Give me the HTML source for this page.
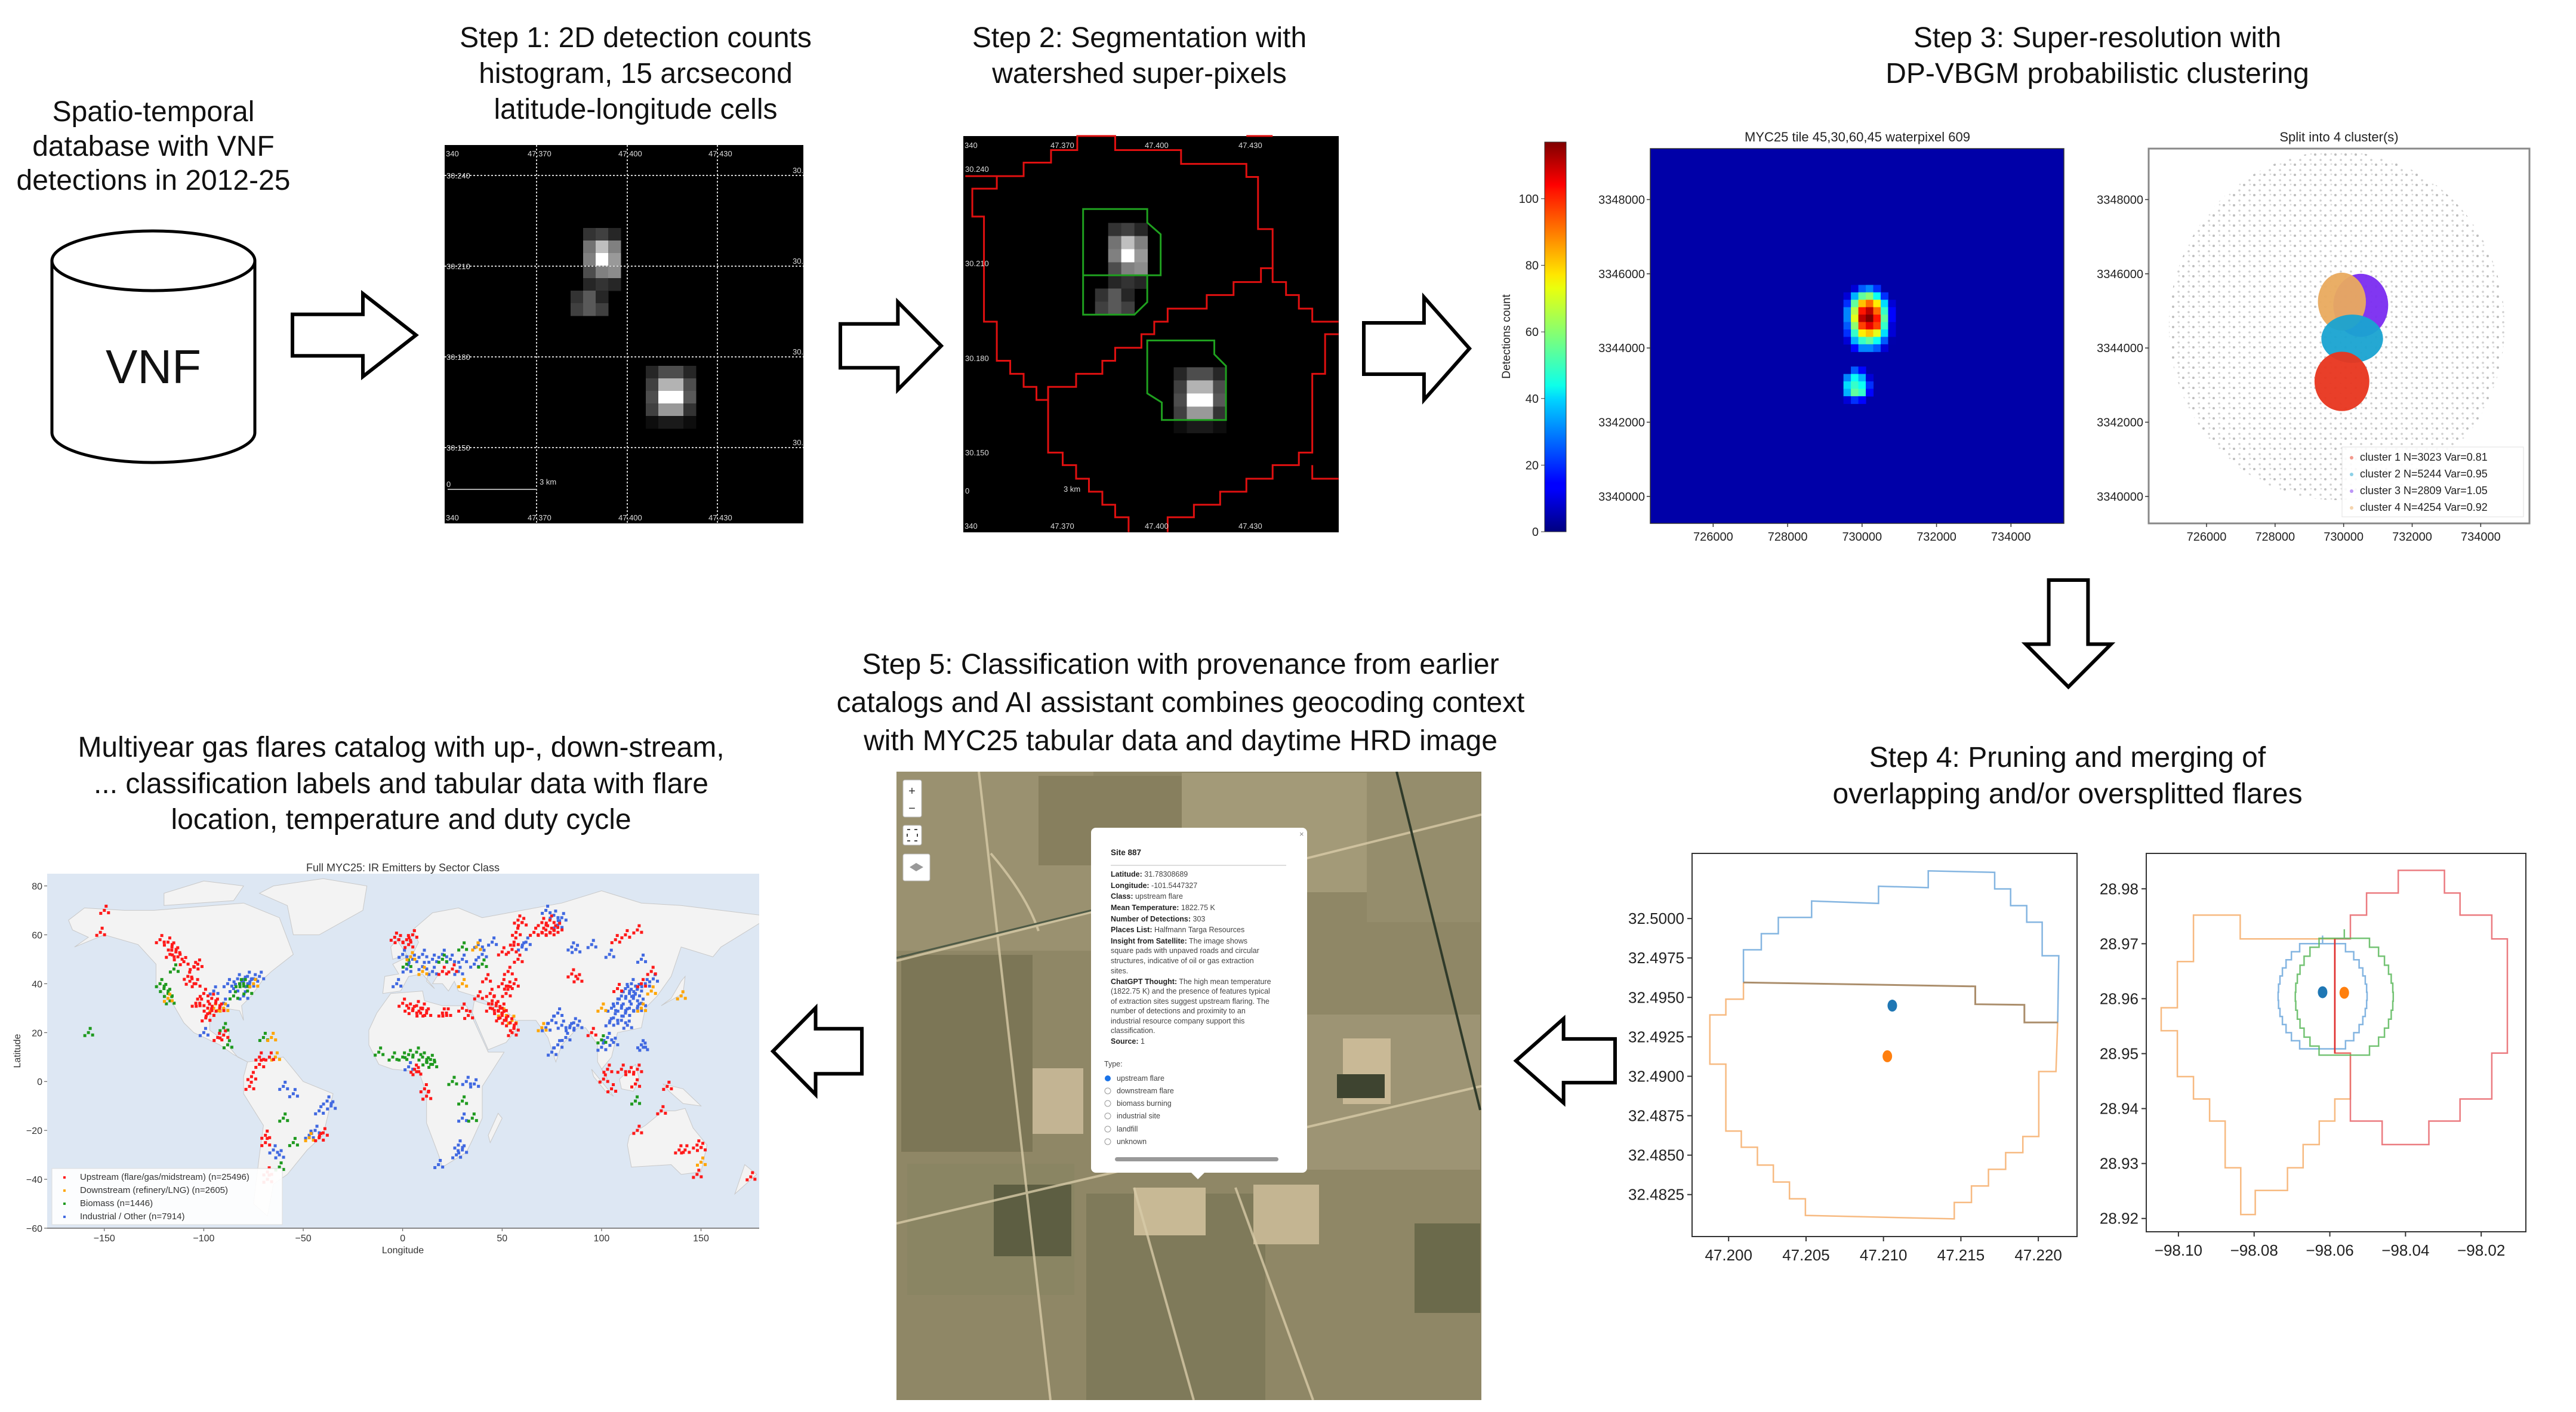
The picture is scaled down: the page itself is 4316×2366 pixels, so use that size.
<!DOCTYPE html>
<html><head><meta charset="utf-8"><style>
html,body{margin:0;padding:0;background:#fff;}
svg{display:block;font-family:"Liberation Sans",sans-serif;}
.title{font-size:48px;fill:#111;text-anchor:middle;}
.tick{font-size:20px;fill:#222;}
.pop{font-size:12.5px;fill:#444;}
.pop b, .popb{font-weight:bold;fill:#222;}
</style></head><body>
<svg id="fig" width="4316" height="2366" viewBox="0 0 4316 2366" xmlns="http://www.w3.org/2000/svg">
<defs>
<linearGradient id="jetgrad" x1="0" y1="1" x2="0" y2="0">
<stop offset="0" stop-color="#00007f"/><stop offset="0.11" stop-color="#0000ff"/><stop offset="0.125" stop-color="#0000ff"/><stop offset="0.34" stop-color="#00d4ff"/><stop offset="0.375" stop-color="#0dffea"/><stop offset="0.5" stop-color="#7dff7a"/><stop offset="0.625" stop-color="#eaff0d"/><stop offset="0.66" stop-color="#ffe600"/><stop offset="0.875" stop-color="#ff1300"/><stop offset="0.89" stop-color="#ff0000"/><stop offset="1" stop-color="#7f0000"/>
</linearGradient>
<pattern id="dots" width="17" height="17" patternUnits="userSpaceOnUse">
<rect width="17" height="17" fill="#fff"/><circle cx="3" cy="4" r="2" fill="#a8a8a8"/><circle cx="12" cy="13" r="1.8" fill="#bdbdbd"/><circle cx="13" cy="3" r="1.4" fill="#d0d0d0"/>
</pattern>
<clipPath id="mapclip"><rect x="79" y="1464" width="1193" height="594"/></clipPath>
<clipPath id="satclip"><rect x="1502" y="1293" width="980" height="1053"/></clipPath>
</defs>

<g>
<text class="title" x="257" y="203">Spatio-temporal</text>
<text class="title" x="257" y="261">database with VNF</text>
<text class="title" x="257" y="318">detections in 2012-25</text>
<text class="title" x="1065" y="79">Step 1: 2D detection counts</text>
<text class="title" x="1065" y="139">histogram, 15 arcsecond</text>
<text class="title" x="1065" y="199">latitude-longitude cells</text>
<text class="title" x="1909" y="79">Step 2: Segmentation with</text>
<text class="title" x="1909" y="139">watershed super-pixels</text>
<text class="title" x="3514" y="79">Step 3: Super-resolution with</text>
<text class="title" x="3514" y="139">DP-VBGM probabilistic clustering</text>
<text class="title" x="3464" y="1285">Step 4: Pruning and merging of</text>
<text class="title" x="3464" y="1346">overlapping and/or oversplitted flares</text>
<text class="title" x="1978" y="1129">Step 5: Classification with provenance from earlier</text>
<text class="title" x="1978" y="1193">catalogs and AI assistant combines geocoding context</text>
<text class="title" x="1978" y="1257">with MYC25 tabular data and daytime HRD image</text>
<text class="title" x="672" y="1268">Multiyear gas flares catalog with up-, down-stream,</text>
<text class="title" x="672" y="1329">... classification labels and tabular data with flare</text>
<text class="title" x="672" y="1389">location, temperature and duty cycle</text>
</g>

<g>
<path d="M87,437 V725 A170,50 0 0 0 427,725 V437" fill="#fff" stroke="#000" stroke-width="5"/>
<ellipse cx="257" cy="437" rx="170" ry="50" fill="#fff" stroke="#000" stroke-width="5"/>
<text x="257" y="642" font-size="80" text-anchor="middle" fill="#111">VNF</text>
</g>

<g id="arrows" fill="#fff" stroke="#000" stroke-width="6" stroke-linejoin="miter"></g>

<g id="step1">
<rect x="745" y="243" width="601" height="634" fill="#000"/>
<g id="s1cells"></g>
<g stroke="#cfcfcf" stroke-width="2" stroke-dasharray="3,3" fill="none">
<line x1="899" y1="243" x2="899" y2="877"/><line x1="1051" y1="243" x2="1051" y2="877"/><line x1="1202" y1="243" x2="1202" y2="877"/>
<line x1="745" y1="294" x2="1346" y2="294"/><line x1="745" y1="446" x2="1346" y2="446"/><line x1="745" y1="598" x2="1346" y2="598"/><line x1="745" y1="750" x2="1346" y2="750"/>
</g>
<g font-size="13" fill="#ddd">
<text x="747" y="262">340</text><text x="884" y="262">47.370</text><text x="1036" y="262">47.400</text><text x="1187" y="262">47.430</text>
<text x="747" y="872">340</text><text x="884" y="872">47.370</text><text x="1036" y="872">47.400</text><text x="1187" y="872">47.430</text>
<text x="748" y="299">30.240</text><text x="748" y="451">30.210</text><text x="748" y="603">30.180</text><text x="748" y="755">30.150</text>
<text x="1328" y="290">30.</text><text x="1328" y="442">30.</text><text x="1328" y="594">30.</text><text x="1328" y="746">30.</text>
<text x="748" y="816">0</text><text x="904" y="812">3 km</text>
</g>
<line x1="750" y1="820" x2="900" y2="820" stroke="#aaa" stroke-width="2"/>
</g>

<g id="step2">
<rect x="1614" y="228" width="629" height="664" fill="#000"/>
<g id="s2content" transform="translate(1614,228) scale(1.046,1.047) translate(-745,-243)"></g>
<g transform="translate(740,220) scale(0.977,0.437)" fill="none" stroke-width="3">
<path vector-effect="non-scaling-stroke" stroke="#e01010" d="M898,172 H998 V120 H1045 V72 H1090 V18 H1155 V72 H1268 V125 H1380 V175 H1400 V375 H1425 V525 H1405 V578 H1358 V628 H1312 V680 H1245 V730 H1222 V778 H1200 V830 H1155 V880 H1133 V930 H1088 V980 H1040 V1030 H1020 V980 H998 V930 H975 V880 H952 V730 H930 V327 H910 V220 H952 V172"/>
<path vector-effect="non-scaling-stroke" stroke="#e01010" d="M1040,980 V1232 H1065 V1280 H1088 V1332 H1110 V1382 H1133 V1432 H1155 V1480 H1178 V1537 M1245,1537 V1480 H1290 V1432 H1335 V1382 H1380 V1332 H1425 V1280 H1470 V1232 H1493 V930 H1515 V778 H1538"/>
<path vector-effect="non-scaling-stroke" stroke="#e01010" d="M1425,525 V578 H1448 V628 H1470 V680 H1493 V730 H1538 M1493,1280 V1332 H1538 M1380,18 H1425"/>
<path vector-effect="non-scaling-stroke" stroke="#1fa01f" d="M1100,298 H1210 V350 L1233,395 V552 H1100 Z M1100,552 H1210 V655 L1188,703 H1100 Z"/>
<path vector-effect="non-scaling-stroke" stroke="#1fa01f" d="M1210,802 H1325 V855 L1345,900 V1107 H1235 V1040 L1210,1005 Z"/>
</g>
<g font-size="13" fill="#ddd">
<text x="1616" y="248">340</text><text x="1760" y="248">47.370</text><text x="1918" y="248">47.400</text><text x="2075" y="248">47.430</text>
<text x="1616" y="886">340</text><text x="1760" y="886">47.370</text><text x="1918" y="886">47.400</text><text x="2075" y="886">47.430</text>
<text x="1617" y="288">30.240</text><text x="1617" y="446">30.210</text><text x="1617" y="605">30.180</text><text x="1617" y="763">30.150</text>
<text x="1617" y="827">0</text><text x="1782" y="824">3 km</text>
</g>
</g>

<g id="step3">
<rect x="2588" y="238" width="36" height="653" fill="url(#jetgrad)" stroke="#333" stroke-width="1"/>
<text transform="translate(2530,564) rotate(-90)" font-size="19" text-anchor="middle" fill="#222">Detections count</text>
<g id="cbticks"></g>
<text x="3112" y="237" font-size="22" text-anchor="middle" fill="#222">MYC25 tile 45,30,60,45 waterpixel 609</text>
<text x="3919" y="237" font-size="22" text-anchor="middle" fill="#222">Split into 4 cluster(s)</text>
<g id="heat"></g>
<g id="clus"></g>
</g>

<g id="step4"></g>

<g id="step5">
<g clip-path="url(#satclip)">
<rect x="1502" y="1293" width="980" height="1053" fill="#8f8766"/>
<rect x="1502" y="1293" width="330" height="300" fill="#9a9170"/>
<rect x="1740" y="1300" width="240" height="150" fill="#877f5e"/>
<rect x="1980" y="1295" width="320" height="200" fill="#a39a78"/>
<rect x="1510" y="1600" width="220" height="330" fill="#7c7656"/>
<rect x="1520" y="1950" width="280" height="220" fill="#8a8563"/>
<rect x="1820" y="2000" width="300" height="346" fill="#7f7a5a"/>
<rect x="2150" y="1700" width="330" height="260" fill="#9d9474"/>
<rect x="2250" y="1740" width="80" height="110" fill="#c9b996"/>
<rect x="1730" y="1790" width="85" height="110" fill="#c3b493"/>
<rect x="1900" y="1990" width="120" height="80" fill="#c8b995"/>
<rect x="2100" y="1985" width="110" height="100" fill="#c4b592"/>
<rect x="1665" y="1985" width="130" height="120" fill="#5d5e42"/>
<rect x="2240" y="1800" width="80" height="40" fill="#3e4430"/>
<rect x="2370" y="2050" width="110" height="150" fill="#6b6a4b"/>
<rect x="2290" y="1295" width="190" height="250" fill="#958d6c"/>
<g stroke="#d8cba8" stroke-width="4" fill="none" opacity="0.8">
<path d="M1502,1610 L2482,1365"/><path d="M1502,2050 L2482,1820"/><path d="M1640,1293 L1760,2346"/><path d="M1900,1990 L2000,2346"/><path d="M2070,1990 L2200,2346"/><path d="M1660,1430 Q1720,1500 1740,1560"/>
</g>
<path d="M2340,1293 L2480,1860" stroke="#2f3a2a" stroke-width="4"/>
<path d="M1502,1605 L1830,1525" stroke="#4e5a46" stroke-width="3"/>
</g>
<g>
<rect x="1513" y="1307" width="31" height="62" fill="#fff" stroke="#bbb" rx="3"/>
<text x="1528" y="1332" font-size="20" text-anchor="middle" fill="#333">+</text>
<text x="1528" y="1361" font-size="20" text-anchor="middle" fill="#333">−</text>
<rect x="1513" y="1383" width="31" height="33" fill="#fff" stroke="#bbb" rx="3"/>
<rect x="1520" y="1390" width="17" height="19" fill="none" stroke="#444" stroke-width="2" stroke-dasharray="5,7"/>
<rect x="1513" y="1431" width="45" height="45" fill="#fff" stroke="#bbb" rx="3"/>
<path d="M1524,1453 L1535,1446 L1547,1453 L1535,1460 Z" fill="#999"/>
</g>
<g>
<rect x="1828" y="1387" width="362" height="578" rx="8" fill="#fff"/>
<path d="M1995,1964 L2007,1976 L2019,1964 Z" fill="#fff"/>
<text x="2177" y="1402" font-size="13" fill="#888">×</text>
<text x="1861" y="1433" font-size="13.5" class="popb">Site 887</text>
<line x1="1861" y1="1450" x2="2155" y2="1450" stroke="#ddd" stroke-width="2"/>
<g class="pop">
<text x="1861" y="1469"><tspan class="popb">Latitude:</tspan> 31.78308689</text>
<text x="1861" y="1488"><tspan class="popb">Longitude:</tspan> -101.5447327</text>
<text x="1861" y="1506"><tspan class="popb">Class:</tspan> upstream flare</text>
<text x="1861" y="1525"><tspan class="popb">Mean Temperature:</tspan> 1822.75 K</text>
<text x="1861" y="1544"><tspan class="popb">Number of Detections:</tspan> 303</text>
<text x="1861" y="1562"><tspan class="popb">Places List:</tspan> Halfmann Targa Resources</text>
<text x="1861" y="1581"><tspan class="popb">Insight from Satellite:</tspan> The image shows</text>
<text x="1861" y="1597">square pads with unpaved roads and circular</text>
<text x="1861" y="1614">structures, indicative of oil or gas extraction</text>
<text x="1861" y="1631">sites.</text>
<text x="1861" y="1649"><tspan class="popb">ChatGPT Thought:</tspan> The high mean temperature</text>
<text x="1861" y="1665">(1822.75 K) and the presence of features typical</text>
<text x="1861" y="1682">of extraction sites suggest upstream flaring. The</text>
<text x="1861" y="1698">number of detections and proximity to an</text>
<text x="1861" y="1715">industrial resource company support this</text>
<text x="1861" y="1731">classification.</text>
<text x="1861" y="1749"><tspan class="popb">Source:</tspan> 1</text>
<text x="1850" y="1787">Type:</text>
</g>
<g class="pop">
<circle cx="1856" cy="1807" r="5" fill="#1a73e8"/><text x="1871" y="1811">upstream flare</text>
<circle cx="1856" cy="1828" r="5" fill="none" stroke="#999"/><text x="1871" y="1832">downstream flare</text>
<circle cx="1856" cy="1849" r="5" fill="none" stroke="#999"/><text x="1871" y="1853">biomass burning</text>
<circle cx="1856" cy="1870" r="5" fill="none" stroke="#999"/><text x="1871" y="1874">industrial site</text>
<circle cx="1856" cy="1892" r="5" fill="none" stroke="#999"/><text x="1871" y="1896">landfill</text>
<circle cx="1856" cy="1913" r="5" fill="none" stroke="#999"/><text x="1871" y="1917">unknown</text>
</g>
<rect x="1868" y="1939" width="274" height="7" rx="3.5" fill="#999"/>
</g>
</g>

<g id="map">
<text x="675" y="1460" font-size="18" text-anchor="middle" fill="#333">Full MYC25: IR Emitters by Sector Class</text>
<rect x="79" y="1464" width="1193" height="594" fill="#dde7f3"/>
<g id="land" clip-path="url(#mapclip)"></g>
<g id="pts" clip-path="url(#mapclip)"></g>
<g id="mapaxes"></g>
<text x="675" y="2100" font-size="16" text-anchor="middle" fill="#333">Longitude</text>
<text transform="translate(34,1761) rotate(-90)" font-size="16" text-anchor="middle" fill="#333">Latitude</text>
<g id="maplegend"></g>
</g>
</svg>
<script>
const NS="http://www.w3.org/2000/svg";
function mk(tag,attrs,parent){const e=document.createElementNS(NS,tag);for(const k in attrs)e.setAttribute(k,attrs[k]);parent.appendChild(e);return e;}
const $=id=>document.getElementById(id);

const s1UpperCounts=[[0,.2,.25,.15],[0,.45,.75,.5],[0,.5,1,.6],[0,.3,.5,.55],[0,.15,.2,.15],[.2,.35,.15,0],[.25,.35,.25,0]];
const s1LowerCounts=[[.15,.3,.3,.15],[.25,.7,.7,.3],[.3,1,1,.35],[.25,.6,.6,.2],[.05,.1,.1,.05]];
const s1Origins=[[956,382],[1082,613]];
const CELL=21;
function drawCells(parent,grid,o){grid.forEach((row,r)=>row.forEach((v,c)=>{if(v<=0)return;const g=Math.round(v*255);
 const rc=mk('rect',{x:o[0]+c*CELL,y:o[1]+r*CELL,width:CELL+0.5,height:CELL+0.5,fill:`rgb(${g},${g},${g})`},parent);
 
 }));}
[$('s1cells'),$('s2content')].forEach(p=>{drawCells(p,s1UpperCounts,s1Origins[0]);drawCells(p,s1LowerCounts,s1Origins[1]);});

const arrowsG=$('arrows');
function arrowPts(x,y,w,h,dir){
 if(dir==='r'){const a=.25,b=.75,hx=x+w*.57;return [[x,y+h*a],[hx,y+h*a],[hx,y],[x+w,y+h/2],[hx,y+h],[hx,y+h*b],[x,y+h*b]];}
 if(dir==='l'){const a=.24,b=.76,hx=x+w*.48;return [[x+w,y+h*a],[hx,y+h*a],[hx,y],[x,y+h/2],[hx,y+h],[hx,y+h*b],[x+w,y+h*b]];}
 const a=.27,b=.73,hy=y+h*.6;return [[x+w*a,y],[x+w*b,y],[x+w*b,hy],[x+w,hy],[x+w/2,y+h],[x,hy],[x+w*a,hy]];}
[[490,492,207,139,'r'],[1408,506,169,147,'r'],[2285,498,177,172,'r'],[3394,972,143,179,'d'],[2540,1707,166,141,'l'],[1295,1689,149,145,'l']].forEach(a=>{
 const p=mk('polygon',{points:arrowPts(...a).map(q=>q.join(',')).join(' ')},arrowsG);
 
 });

const axisXTicks=[726000,728000,730000,732000,734000];
const axisYTicks=[3348000,3346000,3344000,3342000,3340000];
const cbTicks=[0,20,40,60,80,100];
const CB_MAX=117;
const upperBlobOrigin=[729500,3345700];
const upperBlobCounts=[[0,10,25,30,20,0,0],[10,35,55,60,45,20,0],[20,55,80,90,75,40,10],[30,65,100,110,90,50,15],[30,70,110,117,100,55,15],[25,60,95,105,95,50,10],[20,50,75,80,70,40,10],[10,35,50,55,45,25,5],[0,15,30,30,25,10,0]];
const lowerBlobOrigin=[729500,3343500];
const lowerBlobCounts=[[0,25,15,0],[30,45,35,10],[40,50,45,20],[35,55,50,15],[10,20,15,0]];
const BIN=200;
const XMIN=724311,XMAX=735422,YMIN=3339273,YMAX=3349374;
function mkAxis(x0,y0,w,h){return {x:v=>x0+(v-XMIN)/(XMAX-XMIN)*w,y:v=>y0+(YMAX-v)/(YMAX-YMIN)*h,x0,y0,w,h};}
const HM=mkAxis(2765,249,693,628), SC=mkAxis(3600,249,638,628);
function jet(t){t=Math.max(0,Math.min(1,t));const c=v=>Math.round(255*Math.max(0,Math.min(1,v)));
 return `rgb(${c(1.5-Math.abs(4*t-3))},${c(1.5-Math.abs(4*t-2))},${c(1.5-Math.abs(4*t-1))})`;}
const heat=$('heat');
const hbg=mk('rect',{x:HM.x0,y:HM.y0,width:HM.w,height:HM.h,fill:jet(0.04)},heat);


function drawBlob(origin,grid){grid.forEach((row,r)=>row.forEach((v,c)=>{if(v<=0)return;
 const x1=HM.x(origin[0]+c*BIN),x2=HM.x(origin[0]+(c+1)*BIN),y1=HM.y(origin[1]-r*BIN),y2=HM.y(origin[1]-(r+1)*BIN);
 const rc=mk('rect',{x:x1,y:y1,width:x2-x1+0.5,height:y2-y1+0.5,fill:jet(v/CB_MAX)},heat);
 
 }));}
drawBlob(upperBlobOrigin,upperBlobCounts);drawBlob(lowerBlobOrigin,lowerBlobCounts);
function frame(A,g,thick){const f=mk('rect',{x:A.x0,y:A.y0,width:A.w,height:A.h,fill:'none',stroke:thick?'#888':'#333','stroke-width':thick?3:1.5},g);
 axisXTicks.forEach(v=>{mk('line',{x1:A.x(v),x2:A.x(v),y1:A.y0+A.h,y2:A.y0+A.h+6,stroke:'#333','stroke-width':1.5},g);
  const t=mk('text',{x:A.x(v),y:A.y0+A.h+29,'text-anchor':'middle',class:'tick'},g);t.textContent=v;});
 axisYTicks.forEach(v=>{mk('line',{x1:A.x0-6,x2:A.x0,y1:A.y(v),y2:A.y(v),stroke:'#333','stroke-width':1.5},g);
  const t=mk('text',{x:A.x0-9,y:A.y(v)+7,'text-anchor':'end',class:'tick'},g);t.textContent=v;});return f;}
const hf=frame(HM,heat,false);


const cbg=$('cbticks');
cbTicks.forEach(v=>{const y=891-v/CB_MAX*653;mk('line',{x1:2582,x2:2588,y1:y,y2:y,stroke:'#333'},cbg);
 const t=mk('text',{x:2578,y:y+7,'text-anchor':'end',class:'tick'},cbg);t.textContent=v;
 
 });

const clusterNames=['cluster 1 N=3023 Var=0.81','cluster 2 N=5244 Var=0.95','cluster 3 N=2809 Var=1.05','cluster 4 N=4254 Var=0.92'];
const clusterCx=[729950,730250,730500,729950];
const clusterCy=[3343100,3344250,3345150,3345250];
const clusterRx=[800,900,800,700];
const clusterRy=[800,650,850,780];
const clusterColors=['#e8351e','#19a3d1','#7a2cf0','#e9aa5e'];
const cloudCenter=[729800,3344600], cloudRadius=[4900,4700];
const clus=$('clus');
const cbgR=mk('rect',{x:SC.x0,y:SC.y0,width:SC.w,height:SC.h,fill:'#fff'},clus);


const cloud=mk('ellipse',{cx:SC.x(cloudCenter[0]),cy:SC.y(cloudCenter[1]),rx:SC.x(cloudCenter[0]+cloudRadius[0])-SC.x(cloudCenter[0]),ry:SC.y(cloudCenter[1]-cloudRadius[1])-SC.y(cloudCenter[1]),fill:'url(#dots)',opacity:0.75},clus);


[2,3,1,0].forEach(i=>{const e=mk('ellipse',{cx:SC.x(clusterCx[i]),cy:SC.y(clusterCy[i]),rx:SC.x(clusterCx[i]+clusterRx[i])-SC.x(clusterCx[i]),ry:SC.y(clusterCy[i]-clusterRy[i])-SC.y(clusterCy[i]),fill:clusterColors[i],opacity:0.95},clus);
 
 });
const sf=frame(SC,clus,true);


const lg=mk('rect',{x:3924,y:749,width:304,height:117,fill:'#fff',stroke:'#ddd',opacity:0.9},clus);


clusterNames.forEach((n,i)=>{const y=772+i*28;mk('circle',{cx:3940,cy:y-5,r:3,fill:clusterColors[i],opacity:.5},clus);
 const t=mk('text',{x:3954,y:y,'font-size':18,fill:'#222'},clus);t.textContent=n;
 
 });

const p1XTicks=[47.200,47.205,47.210,47.215,47.220];
const p1YTicks=[32.4825,32.4850,32.4875,32.4900,32.4925,32.4950,32.4975,32.5000];
const p1BluePoly=[[47.20096,32.49595],[47.20096,32.49802],[47.20211,32.49802],[47.20211,32.49904],[47.20321,32.49904],[47.20321,32.50007],[47.20536,32.50007],[47.20536,32.50111],[47.20968,32.50096],[47.20968,32.50205],[47.21289,32.50196],[47.21289,32.50302],[47.21718,32.50293],[47.21718,32.50188],[47.21821,32.50188],[47.21821,32.50082],[47.21925,32.50082],[47.21925,32.49977],[47.22025,32.49977],[47.22025,32.49764],[47.22132,32.49764],[47.22125,32.49341]];
const p1MergeLine=[[47.20096,32.49595],[47.21593,32.49570],[47.21593,32.49457],[47.21910,32.49453],[47.21910,32.49341],[47.22125,32.49341]];
const p1OrangePoly=[[47.20096,32.49595],[47.20096,32.49489],[47.19982,32.49489],[47.19982,32.49389],[47.19879,32.49389],[47.19879,32.49077],[47.19982,32.49077],[47.19982,32.48653],[47.20082,32.48653],[47.20082,32.48550],[47.20186,32.48550],[47.20186,32.48437],[47.20289,32.48437],[47.20289,32.48330],[47.20393,32.48330],[47.20393,32.48223],[47.20496,32.48223],[47.20496,32.48118],[47.21457,32.48096],[47.21457,32.48200],[47.21568,32.48200],[47.21568,32.48305],[47.21678,32.48305],[47.21678,32.48410],[47.21789,32.48410],[47.21789,32.48516],[47.21900,32.48516],[47.21900,32.48618],[47.22003,32.48618],[47.22003,32.49030],[47.22114,32.49030],[47.22125,32.49341]];
const p1Centroids=[[47.21057,32.49448],[47.21025,32.49127]];
const p2XTicks=[-98.10,-98.08,-98.06,-98.04,-98.02];
const p2YTicks=[28.92,28.93,28.94,28.95,28.96,28.97,28.98];
const p2OrangePoly=[[-98.09603,28.97521],[-98.08368,28.97521],[-98.08368,28.97088],[-98.05868,28.97088],[-98.05868,28.95010],[-98.05456,28.95010],[-98.05456,28.94175],[-98.05868,28.94175],[-98.05868,28.93773],[-98.06279,28.93773],[-98.06279,28.93345],[-98.06706,28.93345],[-98.06706,28.92922],[-98.07118,28.92922],[-98.07118,28.92510],[-98.07971,28.92510],[-98.07971,28.92072],[-98.08353,28.92072],[-98.08353,28.92922],[-98.08765,28.92922],[-98.08765,28.93773],[-98.09176,28.93773],[-98.09176,28.94175],[-98.09603,28.94175],[-98.09603,28.94582],[-98.10029,28.94582],[-98.10029,28.95417],[-98.10456,28.95417],[-98.10456,28.95835],[-98.10029,28.95835],[-98.10029,28.96675],[-98.09603,28.96675]];
const p2RedPoly=[[-98.05456,28.97088],[-98.05456,28.97521],[-98.05029,28.97521],[-98.05029,28.97923],[-98.04191,28.97923],[-98.04191,28.98335],[-98.02971,28.98335],[-98.02971,28.97923],[-98.02559,28.97923],[-98.02559,28.97521],[-98.01721,28.97521],[-98.01721,28.97088],[-98.01309,28.97088],[-98.01309,28.95010],[-98.01721,28.95010],[-98.01721,28.94175],[-98.02559,28.94175],[-98.02559,28.93773],[-98.03382,28.93773],[-98.03382,28.93345],[-98.04618,28.93345],[-98.04618,28.93773],[-98.05456,28.93773],[-98.05456,28.95010],[-98.05868,28.95010],[-98.05868,28.97088]];
const p2RingCx=[-98.06191,-98.05618];
const p2RingCy=[28.96118,28.96118];
const p2RingRx=[0.01176,0.01294];
const p2RingRy=[0.01031,0.01145];
const p2Centroids=[[-98.06191,28.96118],[-98.05618,28.96108]];
const s4=$('step4');
function plotAxes(x0,y0,w,h,xr,yr){return {x:v=>x0+(v-xr[0])/(xr[1]-xr[0])*w,y:v=>y0+(yr[1]-v)/(yr[1]-yr[0])*h,x0,y0,w,h};}
const P1=plotAxes(2835,1430,645,642,[47.19764,47.22250],[32.47984,32.50413]);
const P2=plotAxes(3596,1430,636,634,[-98.1085,-98.0082],[28.91758,28.98644]);
function pathOf(A,pts,close){return pts.map((p,i)=>(i?'L':'M')+A.x(p[0]).toFixed(1)+','+A.y(p[1]).toFixed(1)).join(' ')+(close?' Z':'');}
function plotFrame(A,xt,yt,fx,fy,name){const g=mk('g',{},s4);
 
 
 mk('rect',{x:A.x0,y:A.y0,width:A.w,height:A.h,fill:'#fff',stroke:'#333','stroke-width':2},g);
 xt.forEach(v=>{mk('line',{x1:A.x(v),x2:A.x(v),y1:A.y0+A.h,y2:A.y0+A.h+8,stroke:'#333','stroke-width':2},g);
  const t=mk('text',{x:A.x(v),y:A.y0+A.h+40,'text-anchor':'middle','font-size':26,fill:'#222'},g);t.textContent=fx(v);});
 yt.forEach(v=>{mk('line',{x1:A.x0-8,x2:A.x0,y1:A.y(v),y2:A.y(v),stroke:'#333','stroke-width':2},g);
  const t=mk('text',{x:A.x0-13,y:A.y(v)+9,'text-anchor':'end','font-size':26,fill:'#222'},g);t.textContent=fy(v);});return g;}
const g1=plotFrame(P1,p1XTicks,p1YTicks,v=>v.toFixed(3),v=>v.toFixed(4),'step4-plot-merge');
const g2=plotFrame(P2,p2XTicks,p2YTicks,v=>v.toFixed(2).replace('-','−'),v=>v.toFixed(2),'step4-plot-split');
function poly(g,A,pts,color,close,name,w){const p=mk('path',{d:pathOf(A,pts,close),fill:'none',stroke:color,'stroke-width':w||2.5,opacity:0.85},g);
 
 }
poly(g1,P1,p1BluePoly,'#6fa8dc',false,'flare-a-boundary');
poly(g1,P1,p1OrangePoly,'#f6ae6b',false,'flare-b-boundary');
poly(g1,P1,p1MergeLine,'#9c7a52',false,'shared-boundary',3);
p1Centroids.forEach((c,i)=>{const e=mk('ellipse',{cx:P1.x(c[0]),cy:P1.y(c[1]),rx:8,ry:10,fill:i?'#ff7f0e':'#1f77b4'},g1);
 
 });
poly(g2,P2,p2OrangePoly,'#f6ae6b',true,'flare-orange-boundary');
poly(g2,P2,p2RedPoly,'#e8646a',true,'flare-red-boundary');
function steppedRing(cx,cy,rx,ry){const pts=[];const N=14;for(let k=0;k<=N;k++){const y=cy+ry*(1-2*k/N);const dx=rx*Math.sqrt(Math.max(0,1-Math.pow((y-cy)/ry,2)));pts.push([cx+dx,y]);if(k<N){const y2=cy+ry*(1-2*(k+1)/N);pts.push([cx+dx,y2]);}}
 const left=pts.map(p=>[2*cx-p[0],p[1]]).reverse();return pts.concat(left);}
p2RingCx.forEach((cx,i)=>poly(g2,P2,steppedRing(cx,p2RingCy[i],p2RingRx[i],p2RingRy[i]),i?'#5cb85c':'#6fa8dc',true,'small-flare-boundary'));
mk('line',{x1:P2.x(-98.05868),x2:P2.x(-98.05868),y1:P2.y(28.97088),y2:P2.y(28.95010),stroke:'#e03030','stroke-width':2.5},g2);
p2Centroids.forEach((c,i)=>{const e=mk('ellipse',{cx:P2.x(c[0]),cy:P2.y(c[1]),rx:8,ry:10,fill:i?'#ff7f0e':'#1f77b4'},g2);
 
 });

const lonTicks=[-150,-100,-50,0,50,100,150];
const latTicks=[-60,-40,-20,0,20,40,60,80];
const MX=v=>79+(v+178.75)/358*1193, MY=v=>1464+(85-v)/145*594;
const continents=[
[[-168,66],[-160,71],[-140,70],[-125,70],[-95,72],[-80,73],[-62,67],[-55,52],[-66,45],[-70,42],[-76,35],[-81,31],[-80,25],[-82,29],[-90,30],[-97,27],[-97,21],[-92,18],[-87,21],[-88,15],[-83,10],[-78,8],[-85,11],[-92,15],[-105,20],[-110,24],[-115,31],[-118,34],[-124,40],[-124,48],[-133,56],[-150,60],[-165,55],[-158,59],[-166,62]],
[[-55,60],[-42,60],[-20,70],[-18,80],[-40,83],[-65,80],[-72,77],[-58,72]],
[[-120,72],[-85,74],[-80,80],[-100,82],[-120,77]],
[[-78,8],[-60,10],[-50,0],[-35,-5],[-40,-22],[-48,-28],[-58,-38],[-65,-42],[-68,-55],[-75,-50],[-72,-30],[-70,-18],[-80,-5],[-80,2]],
[[-10,36],[-9,43],[-2,44],[-5,48],[5,52],[8,57],[5,62],[15,69],[28,71],[40,67],[60,70],[80,73],[100,78],[120,73],[140,72],[160,70],[180,68],[180,65],[170,60],[160,55],[156,51],[140,55],[135,43],[128,35],[122,30],[120,22],[108,20],[105,10],[100,5],[103,1],[98,8],[98,15],[92,22],[88,22],[80,15],[77,8],[73,18],[67,25],[57,25],[50,30],[36,35],[28,37],[26,41],[23,37],[20,40],[15,40],[18,44],[13,45],[12,41],[16,38],[10,44],[3,43],[-1,37]],
[[35,28],[43,13],[52,16],[58,22],[56,26],[50,30],[48,30],[36,33]],
[[-17,15],[-17,21],[-13,28],[-6,36],[10,37],[11,33],[20,31],[32,31],[34,28],[43,12],[51,12],[40,-2],[40,-15],[35,-24],[32,-29],[20,-35],[18,-30],[12,-17],[12,-5],[9,2],[9,4],[-5,5],[-12,7]],
[[114,-22],[122,-18],[131,-12],[137,-12],[142,-11],[146,-19],[153,-26],[150,-37],[140,-38],[135,-34],[115,-35],[113,-26]],
[[109,1],[117,7],[119,1],[116,-4],[110,-3]],[[95,5],[106,-6],[102,-4],[96,2]],[[131,-1],[141,-3],[150,-10],[141,-9],[134,-4]],
[[130,31],[141,36],[142,43],[140,41],[135,34]],[[-5,50],[2,52],[-3,58],[-6,55]],[[44,-25],[50,-15],[48,-13],[43,-22]],[[172,-34],[178,-38],[167,-46]]];
const land=$('land');
continents.forEach(c=>{const p=mk('polygon',{points:c.map(q=>MX(q[0]).toFixed(1)+','+MY(q[1]).toFixed(1)).join(' '),fill:'#f3f3f3',stroke:'#c8c8c8','stroke-width':1},land);
 
 });
const classNames=['Upstream (flare/gas/midstream) (n=25496)','Downstream (refinery/LNG) (n=2605)','Biomass (n=1446)','Industrial / Other (n=7914)'];
const classColors=['#ff1a1a','#ffa500','#1f9a1f','#4169e1'];
const upstreamSites=[[-150,70],[-152,61],[-122,58],[-118,57],[-116,55],[-114,53],[-117,52],[-113,51],[-110,49],[-103,48],[-105,47],[-108,43],[-107,41],[-104,40],[-100,36],[-102,32],[-104,32],[-98,30],[-97,28],[-94,32],[-92,30],[-96,34],[-99,26],[-93,18],[-90,19],[-72,10],[-67,10],[-72,7],[-76,2],[-77,-2],[-69,-22],[-69,-25],[-68,-37],[-68,-40],[-40,-21],[-42,-23],[0,32],[3,30],[5,29],[7,31],[9,28],[10,30],[12,28],[20,28],[22,28],[6,5],[7,4],[11,-3],[12,-6],[44,36],[45,33],[47,31],[48,29],[50,27],[52,25],[54,24],[56,22],[55,20],[50,30],[52,36],[53,39],[56,40],[53,45],[58,50],[55,54],[56,57],[57,61],[60,65],[58,66],[66,61],[70,61],[72,62],[74,61],[76,62],[78,63],[70,65],[74,66],[30,30],[33,27],[38,35],[42,42],[50,40],[107,58],[112,60],[118,62],[125,45],[120,40],[108,38],[85,44],[88,42],[110,5],[114,4],[103,5],[101,1],[105,-3],[117,-1],[118,5],[133,-2],[95,20],[-2,58],[2,58],[5,60],[3,56],[25,46],[20,45],[50,53],[118,-20],[130,-12],[148,-26],[150,-27],[142,-28],[139,-28],[148,-38],[175,-39],[-4,59],[44,30],[49,26]];
const downstreamSites=[[-95,30],[-90,30],[-118,34],[-75,40],[-66,18],[-64,10],[4,51],[10,45],[30,40],[50,28],[55,25],[100,30],[120,30],[125,37],[140,35],[70,22],[37,55],[-47,-23],[150,-33]];
const biomassSites=[[-122,40],[-120,38],[-118,36],[-117,33],[-115,46],[-82,40],[-78,37],[-85,35],[-90,22],[-88,15],[-70,18],[-60,-15],[-55,-25],[-62,-35],[0,10],[3,11],[7,12],[10,10],[12,8],[15,7],[-5,10],[-12,12],[25,0],[30,-8],[35,-15],[2,48],[20,50],[30,55],[40,48],[-158,20],[100,17],[117,-8],[-80,40],[14,9]];
const industrialSites=[[-83,42],[-80,41],[-77,40],[-75,42],[-72,43],[-85,38],[-88,40],[-80,35],[-90,32],[-95,37],[-100,20],[-47,-22],[-44,-20],[-42,-12],[-38,-8],[-36,-10],[-60,-2],[-55,-5],[-65,-28],[-62,-30],[0,52],[5,50],[10,52],[15,50],[20,52],[10,47],[15,45],[2,46],[-3,40],[28,45],[24,50],[30,50],[36,48],[38,56],[45,57],[40,52],[60,55],[62,57],[72,70],[76,68],[80,67],[78,64],[85,55],[87,54],[95,56],[104,52],[120,50],[105,30],[108,32],[110,35],[112,38],[115,40],[118,38],[116,34],[114,30],[112,28],[110,25],[106,26],[104,24],[118,30],[120,32],[113,23],[117,36],[122,40],[126,42],[110,30],[114,36],[72,22],[75,25],[78,28],[80,23],[84,22],[86,24],[82,18],[78,15],[75,12],[88,23],[28,-26],[30,-28],[27,-30],[18,-34],[3,6],[32,0],[36,-1],[30,-15],[100,14],[106,16],[103,18],[120,15],[121,14],[-78,43]];
const siteGroups=[upstreamSites,downstreamSites,biomassSites,industrialSites];
const pts=$('pts');
const glyph=[[0,0],[7,4],[-6,5],[3,-7]];
[3,2,1,0].forEach(ci=>{siteGroups[ci].forEach(s=>{const cx=MX(s[0]),cy=MY(s[1]);
 const g=mk('g',{fill:classColors[ci]},pts);
 
 
 glyph.forEach(o=>mk('rect',{x:cx+o[0]-2.5,y:cy+o[1]-2.5,width:5,height:5},g));});});
const ma=$('mapaxes');
lonTicks.forEach(v=>{mk('line',{x1:MX(v),x2:MX(v),y1:2058,y2:2063,stroke:'#444'},ma);
 const t=mk('text',{x:MX(v),y:2080,'text-anchor':'middle','font-size':16,fill:'#333'},ma);t.textContent=String(v).replace('-','−');});
latTicks.forEach(v=>{mk('line',{x1:74,x2:79,y1:MY(v),y2:MY(v),stroke:'#444'},ma);
 const t=mk('text',{x:71,y:MY(v)+6,'text-anchor':'end','font-size':16,fill:'#333'},ma);t.textContent=String(v).replace('-','−');});
mk('line',{x1:79,x2:1272,y1:2058,y2:2058,stroke:'#888','stroke-width':2},ma);
const ml=$('maplegend');
const mlr=mk('rect',{x:87,y:1958,width:386,height:94,fill:'#fff',stroke:'#ddd',opacity:0.92},ml);


classNames.forEach((n,i)=>{const y=1975+i*22;mk('rect',{x:106,y:y-4,width:4,height:4,fill:classColors[i]},ml);
 const t=mk('text',{x:134,y:y+2,'font-size':15,fill:'#333'},ml);t.textContent=n;
 
 });
</script>
</body></html>
